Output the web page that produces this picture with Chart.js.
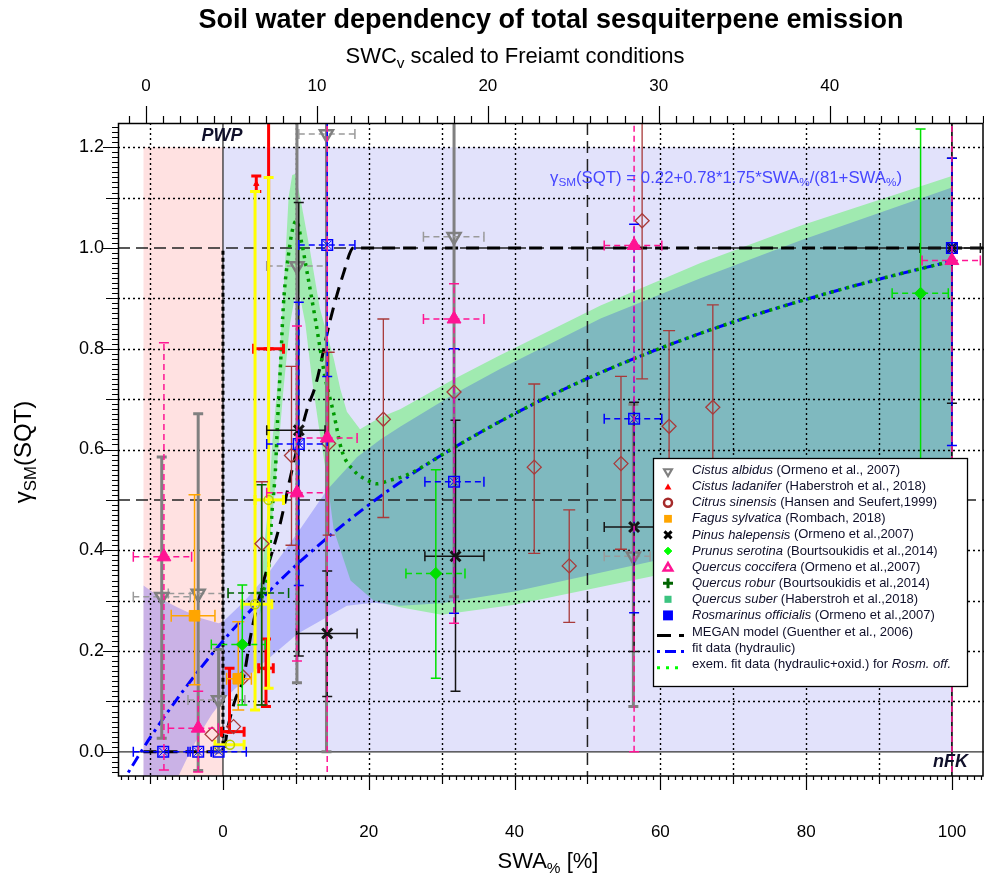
<!DOCTYPE html>
<html>
<head>
<meta charset="utf-8">
<title>Soil water dependency of total sesquiterpene emission</title>
<script src="https://cdn.jsdelivr.net/npm/chart.js@4.4.1/dist/chart.umd.min.js"></script>
<style>
html,body{margin:0;padding:0;background:#ffffff;}
#wrap{position:relative;width:984px;height:882px;}
canvas{display:block;}
</style>
</head>
<body>
<div id="wrap"><canvas id="chart" width="984" height="882"></canvas></div>
<script>
const FONT = "'Liberation Sans', Arial, Helvetica, sans-serif";

// ---------- axes ----------
const X_MIN = -14.4, X_MAX = 104.4;
const Y_MIN = -0.048, Y_MAX = 1.248;
const SWC_MIN = -1.64, SWC_MAX = 49.03;
const X_TICKS = [0, 20, 40, 60, 80, 100];
const SWC_TICKS = [0, 10, 20, 30, 40];
const Y_TICKS = [0, 0.2, 0.4, 0.6, 0.8, 1.0, 1.2];

// ---------- background regions ----------
const PINK_X = [-10.9, 0, 0, -10.9];
const PINK_Y = [-0.048, -0.048, 1.2, 1.2];
const LAV_X = [0, 100, 100, 0];
const LAV_Y = [0, 0, 1.2, 1.2];

// confidence band of hydraulic fit
const BB_X = [-10.9,-8,-6,-3,-0.6,0,3,6,10.5,14.3,18.4,21.6,24.3,31.7,38,51.8,65.5,79.2,100,
              100,80,62.7,40,30,24.3,20.7,17,10.3,5,0,-1.5,-3,-4.5,-6.1,-10.9];
const BB_Y = [0.33,0.30,0.285,0.265,0.255,0.258,0.30,0.35,0.44,0.52,0.585,0.62,0.645,0.71,0.76,0.86,0.94,1.015,1.12,
              0.47,0.43,0.39,0.318,0.295,0.29,0.296,0.29,0.235,0.17,0.103,0.075,0.04,0.0,-0.048,-0.048];
// confidence band of hydraulic+oxid fit
const GB_X = [5.0,5.6,6.3,6.8,7.5,8.1,8.6,9.0,9.5,9.9,10.6,12.0,13.3,15.2,16.1,17.0,18.8,21.6,24.3,31.7,38,51.8,65.5,79.2,100,
              100,80,62.7,40,30,24.3,20.7,17.5,15.2,14.3,13.2,12.2,11.3,10.2,9.2,8.3,7.6,6.8,5.6];
const GB_Y = [0.27,0.40,0.50,0.62,0.73,0.86,0.99,1.10,1.145,1.147,1.10,0.99,0.88,0.78,0.72,0.675,0.64,0.664,0.68,0.74,0.787,0.886,0.97,1.044,1.143,
              0.44,0.40,0.36,0.292,0.272,0.287,0.30,0.34,0.44,0.54,0.64,0.74,0.85,0.93,0.85,0.72,0.60,0.47,0.30];

// ---------- model curves ----------
const MEGAN_X = [-10.9,0,0.7,1.6,2.8,3.9,5.3,7.9,9.2,11.5,12.7,14.7,16.5,17.9,104.4];
const MEGAN_Y = [0,0,0.05,0.10,0.146,0.238,0.324,0.456,0.542,0.678,0.727,0.856,0.948,1.0,1.0];
const FIT_X = [-13,-10,-5,0,5,10,15,20,25,30,40,50,60,70,80,90,100];
const FIT_Y = [-0.041,0.028,0.13,0.22,0.299,0.37,0.433,0.49,0.542,0.589,0.671,0.741,0.801,0.853,0.898,0.938,0.974];
const OX_X = [5.0,5.6,6.3,6.7,7.2,7.5,7.9,8.3,9.0,9.6,10.1,10.8,11.5,12.7,14.0,15.2,16.3,17.9,19.8,21.1,22.9,25,28,30,40,50,60,70,80,90,100];
const OX_Y = [0.29,0.32,0.37,0.47,0.56,0.66,0.77,0.889,0.988,1.04,1.054,1.01,0.955,0.856,0.744,0.671,0.598,0.559,0.539,0.532,0.539,0.548,0.571,0.589,0.671,0.741,0.801,0.853,0.898,0.938,0.974];

// ---------- measurements ----------
// Cistus albidus
const CA_X   = [-8.4, -3.4, -0.6, 10.15, 14.2, 31.7, 56.3];
const CA_Y   = [0.308, 0.314, 0.103, 0.964, 1.226, 1.022, 0.388];
const CA_XLO = [-12.3, -7.5, -4.8, 6.0, 10.4, 27.5, 52.3];
const CA_XHI = [-4.5, 0.7, 3.0, 14.2, 18.1, 35.8, 58.6];
const CA_YLO = [0.027, -0.037, 0.0, 0.137, 0.0, 0.308, 0.09];
const CA_YHI = [0.585, 0.671, 0.203, 1.40, 1.40, 1.40, 0.69];
// Cistus ladanifer
const CL_X   = [0.9, 5.9, 6.26, 4.57];
const CL_Y   = [0.04, 0.166, 0.80, 1.127];
const CL_XLO = [-0.2, 4.9, 4.2, null];
const CL_XHI = [2.9, 6.9, 8.3, null];
const CL_YLO = [0.04, 0.09, 0.80, 1.112];
const CL_YHI = [0.166, 0.224, 1.40, 1.143];
// yellow circles
const QS_X   = [6.26, 4.4, 0.96];
const QS_Y   = [0.50, 0.293, 0.014];
const QS_XLO = [4.4, 2.6, -1.1];
const QS_XHI = [8.3, 6.7, 2.9];
const QS_YLO = [0.126, 0.083, null];
const QS_YHI = [1.14, 1.112, null];
// Citrus sinensis
const CS_X   = [-1.5, 1.45, 2.8, 5.35, 9.4, 14.5, 22.0, 31.7, 42.7, 47.5, 54.6, 57.5, 61.2, 67.2];
const CS_Y   = [0.035, 0.05, 0.148, 0.413, 0.588, 0.612, 0.66, 0.714, 0.565, 0.369, 0.572, 1.054, 0.646, 0.684];
const CS_YLO = [null, null, null, 0.093, 0.41, 0.43, 0.465, null, 0.394, 0.257, 0.402, 0.74, 0.45, 0.48];
const CS_YHI = [null, null, null, 0.536, 0.765, 0.793, 0.859, null, 0.73, 0.48, 0.745, 1.40, 0.836, 0.887];
// Fagus sylvatica
const FS_X   = [-3.9, 2.1];
const FS_Y   = [0.27, 0.145];
const FS_XLO = [-7.1, 0.5];
const FS_XHI = [-1.1, 3.9];
const FS_YLO = [0.133, 0.083];
const FS_YHI = [0.51, 0.258];
// Pinus halepensis
const PH_X   = [10.4, 14.3, 31.9, 56.4, 100];
const PH_Y   = [0.638, 0.235, 0.388, 0.446, 1.0];
const PH_XLO = [6.0, 10.1, 27.7, 52.3, 95.6];
const PH_XHI = [14.0, 18.4, 35.8, 59.2, 103.9];
const PH_YLO = [0.19, 0.11, 0.12, 0.199, 0.692];
const PH_YHI = [1.09, 0.359, 0.658, 0.694, 1.178];
// Prunus serotina
const PS_X   = [2.65, 29.2, 95.7];
const PS_Y   = [0.213, 0.354, 0.91];
const PS_XLO = [-1.6, 25.1, 91.8];
const PS_XHI = [5.8, 33.2, 99.5];
const PS_YLO = [0.093, 0.146, 0.58];
const PS_YHI = [0.331, 0.56, 1.236];
// Quercus coccifera
const QC_X   = [-8.1, -3.4, 10.15, 14.3, 31.7, 56.4, 100];
const QC_Y   = [0.387, 0.047, 0.514, 0.623, 0.859, 1.005, 0.975];
const QC_XLO = [-12.3, -7.5, 6.0, 10.1, 27.5, 52.3, 95.9];
const QC_XHI = [-4.3, -0.64, 14.2, 18.4, 35.8, 60.2, 103.9];
const QC_YLO = [-0.036, -0.04, 0.18, -0.06, 0.255, 0.0, -0.06];
const QC_YHI = [0.812, 0.12, 0.845, 1.40, 0.929, 1.40, 1.40];
// Quercus robur
const QR_X   = [5.3];
const QR_Y   = [0.315];
const QR_XLO = [0.7];
const QR_XHI = [9.0];
const QR_YLO = [0.093];
const QR_YHI = [0.53];
// Rosmarinus officialis
const RO_X   = [-8.2, -3.4, -0.6, 10.4, 14.3, 31.7, 56.4, 100];
const RO_Y   = [0, 0, 0, 0.611, 1.006, 0.536, 0.661, 1.0];
const RO_XLO = [-12.3, -4.8, -1.6, 6.0, 10.4, 27.7, 52.3, null];
const RO_XHI = [-4.5, -1.6, 3.2, 14.3, 18.1, 35.8, 60.2, null];
const RO_YLO = [null, null, null, 0.33, 0.745, 0.275, 0.276, 0.608];
const RO_YHI = [null, null, null, 0.892, 1.40, 0.80, 1.047, 1.178];

// ---------- series styling ----------
const SERIES = [
  {id:'CA', x:CA_X, y:CA_Y, xlo:CA_XLO, xhi:CA_XHI, ylo:CA_YLO, yhi:CA_YHI, color:'#808080', hcolor:'#9a9a9a',
   vw:3, vd:[], hw:1.5, hd:[6,4], cap:5, ps:'triangle', rot:180, r:7.5, bg:'rgba(0,0,0,0)', bw:2.5, order:20},
  {id:'CL', x:CL_X, y:CL_Y, xlo:CL_XLO, xhi:CL_XHI, ylo:CL_YLO, yhi:CL_YHI, color:'#ff0000',
   vw:3, vd:[], hw:3, hd:[], cap:5, ps:'triangle', rot:0, r:3, bg:'#ff0000', bw:1, order:19},
  {id:'QS', x:QS_X, y:QS_Y, xlo:QS_XLO, xhi:QS_XHI, ylo:QS_YLO, yhi:QS_YHI, color:'#ffff00',
   vw:3, vd:[], hw:3, hd:[], cap:5, ps:'circle', rot:0, r:4.5, bg:'rgba(0,0,0,0)', bw:1.5, mcolor:'#b8d000', order:18},
  {id:'CS', x:CS_X, y:CS_Y, xlo:null, xhi:null, ylo:CS_YLO, yhi:CS_YHI, color:'#a83a3a',
   vw:1.3, vd:[], hw:1.3, hd:[], cap:6, ps:'rectRot', rot:0, r:7, bg:'rgba(0,0,0,0)', bw:1.3, order:17},
  {id:'FS', x:FS_X, y:FS_Y, xlo:FS_XLO, xhi:FS_XHI, ylo:FS_YLO, yhi:FS_YHI, color:'#ffa500',
   vw:1.5, vd:[], hw:1.5, hd:[], cap:6, ps:'rect', rot:0, r:7.5, bg:'#ffa500', bw:1, order:16},
  {id:'PH', x:PH_X, y:PH_Y, xlo:PH_XLO, xhi:PH_XHI, ylo:PH_YLO, yhi:PH_YHI, color:'#141414',
   vw:1.5, vd:[], hw:1.5, hd:[], cap:5, ps:'crossRot', rot:0, r:7, bg:'#141414', bw:3, order:15},
  {id:'PS', x:PS_X, y:PS_Y, xlo:PS_XLO, xhi:PS_XHI, ylo:PS_YLO, yhi:PS_YHI, color:'#00e000',
   vw:1.5, vd:[], hw:1.5, hd:[6,4], cap:5, ps:'rectRot', rot:0, r:6, bg:'#00e000', bw:1, order:14},
  {id:'QR', x:QR_X, y:QR_Y, xlo:QR_XLO, xhi:QR_XHI, ylo:QR_YLO, yhi:QR_YHI, color:'#006400',
   vw:1.5, vd:[], hw:1.5, hd:[6,4], cap:5, ps:'cross', rot:0, r:5, bg:'#006400', bw:2.5, order:13},
  {id:'RO', x:RO_X, y:RO_Y, xlo:RO_XLO, xhi:RO_XHI, ylo:RO_YLO, yhi:RO_YHI, color:'#0000ff',
   vw:1.5, vd:[6,4], hw:1.5, hd:[6,4], cap:5, ps:'rect', rot:0, r:7.5, bg:'rgba(0,0,0,0)', bw:1.5, order:12},
  {id:'QC', x:QC_X, y:QC_Y, xlo:QC_XLO, xhi:QC_XHI, ylo:QC_YLO, yhi:QC_YHI, color:'#ff1493',
   vw:1.5, vd:[6,4], hw:1.5, hd:[6,4], cap:5, ps:'triangle', rot:0, r:8, bg:'#ff1493', bw:1, order:10}
];

function pts(xs, ys) { return xs.map((x, i) => ({x: x, y: ys[i]})); }

const datasets = [];
function poly(label, xs, ys, color, order) {
  datasets.push({type:'line', label, data:pts(xs, ys), fill:'shape', backgroundColor:color,
    borderColor:'rgba(0,0,0,0)', borderWidth:0, pointRadius:0, tension:0, order});
}
poly('PINK', PINK_X, PINK_Y, '#ffe1e1', 200);
poly('LAV', LAV_X, LAV_Y, '#e2e2fb', 199);
poly('GBAND', GB_X, GB_Y, '#a0eab0', 190);
poly('BBAND', BB_X, BB_Y, 'rgba(7,7,250,0.21)', 180);

function curve(label, xs, ys, color, w, dash, order) {
  datasets.push({type:'line', label, data:pts(xs, ys), fill:false, borderColor:color, borderWidth:w,
    borderDash:dash, pointRadius:0, cubicInterpolationMode:'monotone', borderCapStyle:'butt', order});
}
curve('MEGAN', MEGAN_X, MEGAN_Y, '#000000', 3, [13, 8], 32);
curve('FIT', FIT_X, FIT_Y, '#0000ff', 3, [3, 5, 11, 5], 31);
curve('OX', OX_X, OX_Y, '#009a00', 3.5, [3, 5], 30);

for (const s of SERIES) {
  datasets.push({type:'scatter', label:s.id, data:pts(s.x, s.y), pointStyle:s.ps, pointRotation:s.rot,
    pointRadius:s.r, pointBackgroundColor:s.bg, pointBorderColor:s.mcolor || s.color,
    pointBorderWidth:s.bw, showLine:false, order:s.order});
  if (s.id === 'RO') {
    datasets.push({type:'scatter', label:'RO2', data:pts(s.x, s.y), pointStyle:'crossRot',
      pointRadius:5.5, pointBorderColor:'#0000ff', pointBorderWidth:1, showLine:false, order:11});
  }
}

// ---------- drawing helpers ----------
function clipArea(ctx, a) { ctx.beginPath(); ctx.rect(a.left, a.top, a.right - a.left, a.bottom - a.top); ctx.clip(); }

function drawErrors(chart, s) {
  const ctx = chart.ctx, a = chart.chartArea, xs = chart.scales.x, ys = chart.scales.y;
  ctx.save(); clipArea(ctx, a); ctx.lineCap = 'butt';
  for (let i = 0; i < s.x.length; i++) {
    const px = xs.getPixelForValue(s.x[i]), py = ys.getPixelForValue(s.y[i]);
    if (s.ylo && s.ylo[i] != null) {
      const p1 = ys.getPixelForValue(s.ylo[i]), p2 = ys.getPixelForValue(s.yhi[i]);
      ctx.strokeStyle = s.color; ctx.lineWidth = s.vw; ctx.setLineDash(s.vd);
      ctx.beginPath(); ctx.moveTo(px, p1); ctx.lineTo(px, p2); ctx.stroke();
      ctx.setLineDash([]); ctx.lineWidth = Math.max(1.3, s.vw);
      ctx.beginPath(); ctx.moveTo(px - s.cap, p1); ctx.lineTo(px + s.cap, p1);
      ctx.moveTo(px - s.cap, p2); ctx.lineTo(px + s.cap, p2); ctx.stroke();
    }
    if (s.xlo && s.xlo[i] != null) {
      const q1 = xs.getPixelForValue(s.xlo[i]), q2 = xs.getPixelForValue(s.xhi[i]);
      ctx.strokeStyle = s.hcolor || s.color; ctx.lineWidth = s.hw; ctx.setLineDash(s.hd);
      ctx.beginPath(); ctx.moveTo(q1, py); ctx.lineTo(q2, py); ctx.stroke();
      ctx.setLineDash([]); ctx.lineWidth = Math.max(1.3, s.hw);
      ctx.beginPath(); ctx.moveTo(q1, py - s.cap); ctx.lineTo(q1, py + s.cap);
      ctx.moveTo(q2, py - s.cap); ctx.lineTo(q2, py + s.cap); ctx.stroke();
    }
  }
  ctx.restore();
}

const GRID_X = [-10, 10, 20, 30, 40, 60, 70, 80, 90];
const GRID_Y = [0.1, 0.2, 0.3, 0.4, 0.6, 0.7, 0.8, 0.9, 1.1, 1.2];
function drawGrid(chart) {
  const ctx = chart.ctx, a = chart.chartArea, xs = chart.scales.x, ys = chart.scales.y;
  ctx.save(); clipArea(ctx, a);
  ctx.strokeStyle = '#000'; ctx.lineWidth = 1.4; ctx.setLineDash([2, 3]);
  ctx.beginPath();
  for (const v of GRID_X) { const p = Math.round(xs.getPixelForValue(v)) + 0.5; ctx.moveTo(p, a.top); ctx.lineTo(p, a.bottom); }
  for (const v of GRID_Y) { const p = Math.round(ys.getPixelForValue(v)) + 0.5; ctx.moveTo(a.left, p); ctx.lineTo(a.right, p); }
  ctx.stroke();
  ctx.strokeStyle = '#222'; ctx.lineWidth = 1.5; ctx.setLineDash([12, 6]);
  ctx.beginPath();
  for (const v of [0.5, 1.0]) { const p = ys.getPixelForValue(v); ctx.moveTo(a.left, p); ctx.lineTo(a.right, p); }
  { const p = xs.getPixelForValue(50); ctx.moveTo(p, a.top); ctx.lineTo(p, a.bottom); }
  ctx.stroke();
  ctx.setLineDash([]); ctx.strokeStyle = '#333'; ctx.lineWidth = 1.3;
  ctx.beginPath();
  { const p = ys.getPixelForValue(0); ctx.moveTo(a.left, p); ctx.lineTo(a.right, p); }
  { const p = xs.getPixelForValue(0); ctx.moveTo(p, a.top); ctx.lineTo(p, a.bottom); }
  ctx.stroke();
  ctx.strokeStyle = '#000'; ctx.lineWidth = 1.6;
  ctx.beginPath(); { const p = xs.getPixelForValue(100); ctx.moveTo(p, a.top); ctx.lineTo(p, a.bottom); } ctx.stroke();
  ctx.setLineDash([4, 3]); ctx.lineWidth = 3;
  ctx.beginPath(); { const p = xs.getPixelForValue(0); ctx.moveTo(p, ys.getPixelForValue(0)); ctx.lineTo(p, ys.getPixelForValue(1)); } ctx.stroke();
  ctx.restore();
}

function setFont(ctx, size, style) { ctx.font = (style || '') + ' ' + size + 'px ' + FONT; }
function richWidth(ctx, parts, size) {
  let w = 0;
  for (const p of parts) { setFont(ctx, p.sub ? size * 0.7 : size, p.s); w += ctx.measureText(p.t).width; }
  return w;
}
function drawRich(ctx, parts, x, y, size, align, color) {
  const w = richWidth(ctx, parts, size);
  let cx = align === 'center' ? x - w / 2 : (align === 'right' ? x - w : x);
  ctx.fillStyle = color; ctx.textBaseline = 'middle'; ctx.textAlign = 'left';
  for (const p of parts) {
    const sz = p.sub ? size * 0.7 : size;
    setFont(ctx, sz, p.s);
    ctx.fillText(p.t, cx, p.sub ? y + size * 0.3 : y);
    cx += ctx.measureText(p.t).width;
  }
}

function marker(ctx, style, x, y, r, fill, stroke, bw, rot) {
  ctx.save(); ctx.translate(x, y); ctx.rotate((rot || 0) * Math.PI / 180);
  ctx.beginPath();
  if (style === 'triangle') {
    for (let k = 0; k < 3; k++) { const ang = k * 2 * Math.PI / 3; const px = Math.sin(ang) * r, py = -Math.cos(ang) * r; k ? ctx.lineTo(px, py) : ctx.moveTo(px, py); }
    ctx.closePath();
  } else if (style === 'rect') { const h = r * Math.SQRT1_2; ctx.rect(-h, -h, 2 * h, 2 * h); }
  else if (style === 'rectRot') { ctx.moveTo(0, -r); ctx.lineTo(r, 0); ctx.lineTo(0, r); ctx.lineTo(-r, 0); ctx.closePath(); }
  else if (style === 'crossRot') { const h = r * Math.SQRT1_2; ctx.moveTo(-h, -h); ctx.lineTo(h, h); ctx.moveTo(h, -h); ctx.lineTo(-h, h); }
  else if (style === 'cross') { ctx.moveTo(-r, 0); ctx.lineTo(r, 0); ctx.moveTo(0, -r); ctx.lineTo(0, r); }
  else { ctx.arc(0, 0, r, 0, 2 * Math.PI); }
  if (fill) { ctx.fillStyle = fill; ctx.fill(); }
  if (stroke) { ctx.strokeStyle = stroke; ctx.lineWidth = bw; ctx.stroke(); }
  ctx.restore();
}

const LEGEND_SPECIES = [
  ['Cistus albidus', ' (Ormeno et al., 2007)'],
  ['Cistus ladanifer', ' (Haberstroh et al., 2018)'],
  ['Citrus sinensis', ' (Hansen and Seufert,1999)'],
  ['Fagus sylvatica', ' (Rombach, 2018)'],
  ['Pinus halepensis', ' (Ormeno et al.,2007)'],
  ['Prunus serotina', ' (Bourtsoukidis et al.,2014)'],
  ['Quercus coccifera', ' (Ormeno et al.,2007)'],
  ['Quercus robur', ' (Bourtsoukidis et al.,2014)'],
  ['Quercus suber', ' (Haberstroh et al.,2018)'],
  ['Rosmarinus officialis', ' (Ormeno et al.,2007)']
];
const LEGEND_MARKERS = [
  ['triangle', 4.5, null, '#808080', 2.2, 180],
  ['triangle', 4, '#ff0000', null, 0, 0],
  ['circle', 4, null, '#a52a2a', 2.5, 0],
  ['rect', 5.5, '#ffa500', null, 0, 0],
  ['crossRot', 5, null, '#000000', 3, 0],
  ['rectRot', 3.8, '#00ff00', '#00ff00', 1, 0],
  ['triangle', 5, null, '#ff1493', 2.5, 0],
  ['cross', 5, null, '#006400', 3, 0],
  ['rect', 5, '#3cc480', null, 0, 0],
  ['rect', 7, '#0000ff', null, 0, 0]
];

function drawLegend(ctx) {
  const L = 653.5, T = 458.5, W = 314, H = 228;
  ctx.save();
  ctx.fillStyle = '#ffffff'; ctx.fillRect(L, T, W, H);
  ctx.strokeStyle = '#000'; ctx.lineWidth = 1.3; ctx.setLineDash([]); ctx.strokeRect(L, T, W, H);
  const tx = 692, y0 = 470.5, dy = 16.1, size = 13, col = '#10102a';
  LEGEND_SPECIES.forEach((e, i) => {
    const y = y0 + i * dy;
    const m = LEGEND_MARKERS[i];
    marker(ctx, m[0], 668, y + (m[0] === 'triangle' ? 1 : 0), m[1], m[2], m[3], m[4], m[5]);
    drawRich(ctx, [{t:e[0], s:'italic'}, {t:e[1]}], tx, y, size, 'left', col);
  });
  const lines = [
    {txt:[{t:'MEGAN model (Guenther et al., 2006)'}], color:'#000', w:3, dash:[14, 8], off:0},
    {txt:[{t:'fit data (hydraulic)'}], color:'#0000ff', w:3, dash:[3, 5, 11, 5], off:0},
    {txt:[{t:'exem. fit data (hydraulic+oxid.) for '}, {t:'Rosm. off.', s:'italic'}], color:'#00ff00', w:3, dash:[3, 6], off:0}
  ];
  lines.forEach((e, k) => {
    const y = y0 + (10 + k) * dy + 1;
    ctx.save(); ctx.strokeStyle = e.color; ctx.lineWidth = e.w; ctx.setLineDash(e.dash); ctx.lineDashOffset = e.off;
    ctx.beginPath(); ctx.moveTo(657, y + 3); ctx.lineTo(684, y + 3); ctx.stroke(); ctx.restore();
    drawRich(ctx, e.txt, tx, y, size, 'left', col);
  });
  ctx.restore();
}

function drawFrameAndTicks(chart) {
  const ctx = chart.ctx, a = chart.chartArea, xs = chart.scales.x, ys = chart.scales.y, x2 = chart.scales.x2;
  ctx.save();
  ctx.strokeStyle = '#000'; ctx.setLineDash([]); ctx.lineWidth = 1.5;
  ctx.strokeRect(a.left + 0.5, a.top + 0.5, a.right - a.left - 1.5, a.bottom - a.top - 0.5);
  ctx.lineWidth = 1.2; ctx.beginPath();
  for (let v = -14; v <= 104; v++) {
    const p = Math.round(xs.getPixelForValue(v)) + 0.5;
    const len = (v % 20 === 0) ? 14 : (v % 10 === 0 ? 8 : 4);
    ctx.moveTo(p, a.bottom); ctx.lineTo(p, a.bottom + len);
  }
  for (let k = -4; k <= 124; k++) {
    const p = Math.round(ys.getPixelForValue(k / 100)) + 0.5;
    const len = (k % 20 === 0) ? 15 : (k % 10 === 0 ? 12 : 6);
    ctx.moveTo(a.left, p); ctx.lineTo(a.left - len, p);
  }
  for (let v = -1; v <= 49; v++) {
    const p = Math.round(x2.getPixelForValue(v)) + 0.5;
    const len = (v % 10 === 0) ? 17 : 7;
    ctx.moveTo(p, a.top); ctx.lineTo(p, a.top - len);
  }
  ctx.stroke();
  ctx.restore();
}

function drawTexts(chart) {
  const ctx = chart.ctx;
  ctx.save();
  drawRich(ctx, [{t:'Soil water dependency of total sesquiterpene emission', s:'bold'}], 551, 21, 27, 'center', '#000');
  drawRich(ctx, [{t:'SWC'}, {t:'v', sub:1}, {t:' scaled to Freiamt conditions'}], 515, 57, 22, 'center', '#000');
  drawRich(ctx, [{t:'SWA'}, {t:'%', sub:1}, {t:' [%]'}], 548, 862, 22, 'center', '#000');
  ctx.save(); ctx.translate(24, 452); ctx.rotate(-Math.PI / 2);
  drawRich(ctx, [{t:'γ'}, {t:'SM', sub:1}, {t:'(SQT)'}], 0, 0, 24, 'center', '#000');
  ctx.restore();
  drawRich(ctx, [{t:'PWP', s:'italic bold'}], 222, 136, 18, 'center', '#10102a');
  drawRich(ctx, [{t:'nFK', s:'italic bold'}], 968, 762, 18, 'right', '#10102a');
  drawRich(ctx, [{t:'γ'}, {t:'SM', sub:1}, {t:'(SQT) = 0.22+0.78*1.75*SWA'}, {t:'%', sub:1}, {t:'/(81+SWA'}, {t:'%', sub:1}, {t:')'}],
    550, 178, 16.8, 'left', '#4646ff');
  ctx.restore();
}

const seriesById = {};
SERIES.forEach(s => seriesById[s.id] = s);

const layerPlugin = {
  id: 'layers',
  beforeDraw(chart) { const c = chart.ctx; c.save(); c.fillStyle = '#fff'; c.fillRect(0, 0, chart.width, chart.height); c.restore(); },
  beforeDatasetDraw(chart, args) {
    const lbl = chart.data.datasets[args.index].label;
    if (seriesById[lbl]) drawErrors(chart, seriesById[lbl]);
  },
  afterDatasetDraw(chart, args) {
    const lbl = chart.data.datasets[args.index].label;
    if (lbl === 'BBAND') drawGrid(chart);
  },
  afterDraw(chart) {
    drawFrameAndTicks(chart);
    drawTexts(chart);
    drawLegend(chart.ctx);
  }
};

function noPad(s) { s.paddingLeft = 0; s.paddingRight = 0; s.paddingTop = 0; s.paddingBottom = 0; }
const tickFont = {family: FONT, size: 17};
new Chart(document.getElementById('chart'), {
  type: 'scatter',
  data: {datasets},
  options: {
    responsive: false,
    animation: false,
    events: [],
    devicePixelRatio: 1,
    layout: {padding: 0, autoPadding: false},
    plugins: {legend: {display: false}, tooltip: {enabled: false}, title: {display: false}},
    scales: {
      x: {type:'linear', position:'bottom', min:X_MIN, max:X_MAX,
        grid:{display:false, drawTicks:false}, border:{display:false},
        ticks:{font:tickFont, color:'#000', padding:46, maxRotation:0, autoSkip:false},
        afterBuildTicks: s => { s.ticks = X_TICKS.map(v => ({value: v})); },
        afterFit: s => { s.height = 106; noPad(s); }},
      x2: {type:'linear', position:'top', min:SWC_MIN, max:SWC_MAX,
        grid:{display:false, drawTicks:false}, border:{display:false},
        ticks:{font:tickFont, color:'#000', padding:26, maxRotation:0, autoSkip:false},
        afterBuildTicks: s => { s.ticks = SWC_TICKS.map(v => ({value: v})); },
        afterFit: s => { s.height = 123; noPad(s); }},
      y: {type:'linear', position:'left', min:Y_MIN, max:Y_MAX,
        grid:{display:false, drawTicks:false}, border:{display:false},
        ticks:{font:{family: FONT, size: 18}, color:'#000', padding:14, autoSkip:false, callback: v => Number(v).toFixed(1)},
        afterBuildTicks: s => { s.ticks = Y_TICKS.map(v => ({value: v})); },
        afterFit: s => { s.width = 118; noPad(s); }}
    }
  },
  plugins: [layerPlugin]
});
</script>
</body>
</html>
